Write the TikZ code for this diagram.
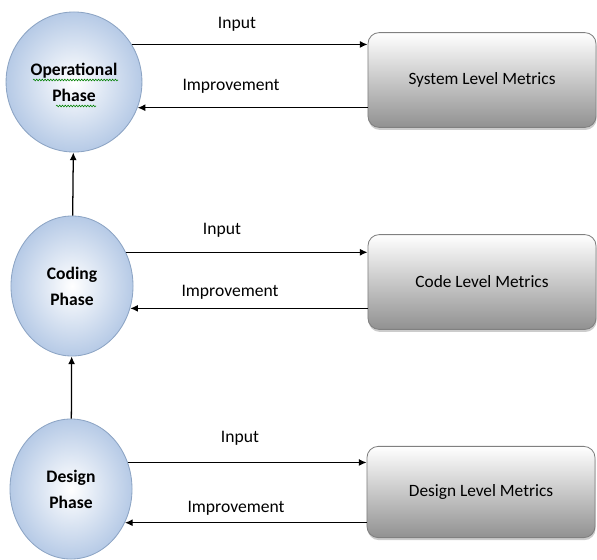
\documentclass[tikz,border=0pt]{standalone}
\usepackage{fontspec}
\setmainfont{Carlito}
\usetikzlibrary{arrows.meta, shapes.geometric, shadows, decorations.pathmorphing}

\definecolor{phaseblue}{RGB}{182,202,230}
\definecolor{phaseline}{RGB}{140,164,196}
\definecolor{boxgray}{RGB}{145,145,145}

\tikzset{
  phase/.style={ellipse, draw=phaseline, line width=0.6pt, inner color=white, outer color=phaseblue,
    minimum width=3.05cm, minimum height=3.5cm, align=center, font=\bfseries\fontsize{12.5}{18.5}\selectfont},
  metric/.style={rectangle, rounded corners=8pt, draw=gray, line width=0.6pt, top color=white, bottom color=boxgray,
    minimum width=5.7cm, minimum height=2.37cm, font=\fontsize{12.3}{14}\selectfont,
    drop shadow={opacity=0.4, shadow xshift=0.4pt, shadow yshift=-1.8pt}},
  flow/.style={-{Latex[length=5.5pt, width=5pt]}, line width=0.9pt},
  lbl/.style={font=\fontsize{12.5}{14}\selectfont},
  squiggle/.style={draw=green!50!black, line width=0.4pt, decorate, decoration={snake, amplitude=0.6pt, segment length=2pt}}
}

\begin{document}
\begin{tikzpicture}[x=0.025cm, y=-0.025cm]
\useasboundingbox (0,0) rectangle (597,559);

% phases
\node[phase] (op) at (74,82) {Operational\\Phase};
\node[phase] (cod) at (72,286) {Coding\\Phase};
\node[phase] (des) at (71,489) {Design\\Phase};

% metrics
\node[metric] (sys) at (482,80) {System Level Metrics};
\node[metric] (code) at (482,282) {Code Level Metrics};
\node[metric, minimum height=2.28cm] (dsg) at (481,492) {Design Level Metrics};

% spell check marks
\draw[squiggle] (33,80) -- (118,80);
\draw[squiggle] (56,106) -- (96,106);

% phase to phase
\draw[flow] (des) -- (cod);
\draw[flow] (cod) -- (op);

% input and improvement
\draw[flow] (op.33) -- (op.33 -| sys.west);
\draw[flow] (sys.west |- op.-22) -- (op.-22);
\draw[flow] (cod.32) -- (cod.32 -| code.west);
\draw[flow] (code.west |- cod.-21) -- (cod.-21);
\draw[flow] (des.25) -- (des.25 -| dsg.west);
\draw[flow] (dsg.west |- des.-32) -- (des.-32);

\node[lbl] (in1) at (237,24) {Input};
\node[lbl] (im1) at (231,86) {Improvement};
\node[lbl] (in2) at (222,230) {Input};
\node[lbl] (im2) at (230,292) {Improvement};
\node[lbl] (in3) at (240,438) {Input};
\node[lbl] (im3) at (236,508) {Improvement};
\end{tikzpicture}
\end{document}
